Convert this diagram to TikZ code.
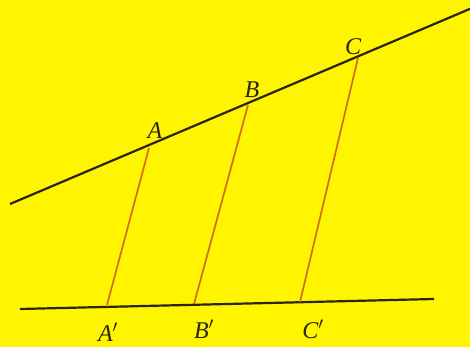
\documentclass[tikz,border=0pt]{standalone}
\usepackage{fontspec}
\setmainfont{Liberation Serif}
\definecolor{bgyellow}{HTML}{FFF500}
\definecolor{segorange}{HTML}{D06E18}
\definecolor{linedark}{HTML}{2A2410}
\begin{document}
\begin{tikzpicture}[x=1pt,y=-1pt,
  mainline/.style={draw=linedark,line width=2.2pt},
  seg/.style={draw=segorange,line width=1.7pt},
  lbl/.style={font=\fontsize{24}{26}\selectfont\itshape,text=linedark,inner sep=0pt}]
\fill[bgyellow] (0,0) rectangle (470,347);
\useasboundingbox (0,0) rectangle (470,347);
% line endpoints
\coordinate (T1) at (10,204);
\coordinate (T2) at (472,8);
\coordinate (U1) at (20,309);
\coordinate (U2) at (434,299);
% points
\coordinate (A) at (149,148);
\coordinate (B) at (248,105);
\coordinate (C) at (358,58);
\coordinate (A') at (107,305);
\coordinate (B') at (194,304);
\coordinate (C') at (300,302);
\draw[mainline] (T1) -- (T2);
\draw[mainline] (U1) -- (U2);
\draw[seg] (A) -- (A');
\draw[seg] (B) -- (B');
\draw[seg] (C) -- (C');
\node[lbl] (lA) at (155,131) {A};
\node[lbl] (lB) at (252,90) {B};
\node[lbl] (lC) at (353,47) {C};
\node[lbl] (lA') at (108,332) {A$'$};
\node[lbl] (lB') at (204,329) {B$'$};
\node[lbl] (lC') at (313,329) {C$'$};
\end{tikzpicture}
\end{document}
